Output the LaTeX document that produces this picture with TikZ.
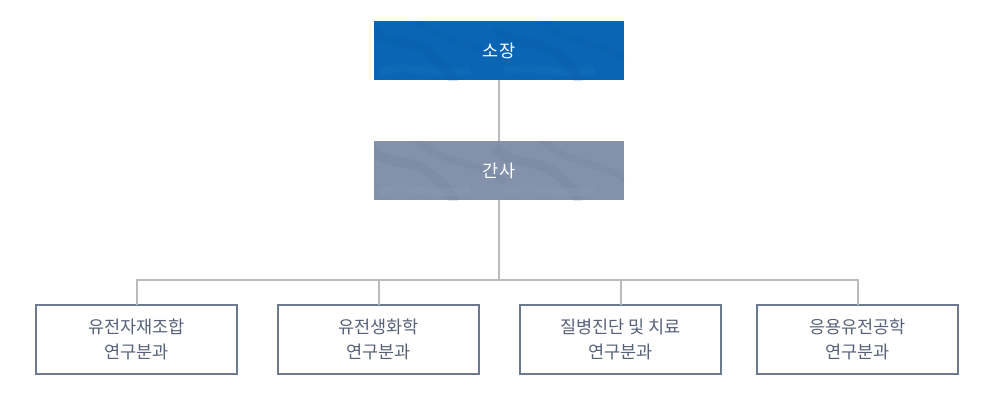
\documentclass[tikz,border=0pt]{standalone}
\usepackage{fontspec}
\setmainfont{Noto Sans CJK KR}
\definecolor{topblue}{HTML}{0A66B4}
\definecolor{topdark}{HTML}{04559E}
\definecolor{toplight}{HTML}{2A7CC4}
\definecolor{secgray}{HTML}{8391AA}
\definecolor{secdark}{HTML}{6C7B97}
\definecolor{seclight}{HTML}{98A4B9}
\definecolor{boxborder}{HTML}{6B7A90}
\definecolor{boxtext}{HTML}{57627A}
\definecolor{linegray}{HTML}{BBBBBB}
\begin{document}
\begin{tikzpicture}[x=1pt,y=-1pt,
  headbox/.style={minimum width=250pt,minimum height=59pt,inner sep=0pt,text=white,font=\fontsize{17.5}{20}\selectfont},
  unitbox/.style={draw=boxborder,line width=2pt,fill=white,minimum width=201pt,minimum height=69pt,inner sep=0pt,text=boxtext,align=center,font=\fontsize{17.5}{25}\selectfont},
  conn/.style={draw=linegray,line width=2pt}]
\useasboundingbox (0,0) rectangle (1000,400);
\node[headbox,fill=topblue] (chief) at (499,50.5) {};
\begin{scope}
\clip (374,21) rectangle (624,80);
\foreach \o in {0,125}{
\draw[topdark,line width=10pt,opacity=0.18] (370+\o,28) .. controls (395+\o,55) and (420+\o,25) .. (455+\o,82);
\draw[topdark,line width=7pt,opacity=0.15] (415+\o,18) .. controls (440+\o,45) and (470+\o,38) .. (505+\o,62);
\draw[toplight,line width=8pt,opacity=0.15] (380+\o,72) .. controls (410+\o,62) and (430+\o,78) .. (470+\o,70);
}
\end{scope}
\node[headbox] at (chief) {소장};
\node[headbox,fill=secgray] (sec) at (499,170.5) {};
\begin{scope}
\clip (374,141) rectangle (624,200);
\foreach \o in {0,125}{
\draw[secdark,line width=10pt,opacity=0.18] (370+\o,148) .. controls (395+\o,175) and (420+\o,145) .. (455+\o,202);
\draw[secdark,line width=7pt,opacity=0.15] (415+\o,138) .. controls (440+\o,165) and (470+\o,158) .. (505+\o,182);
\draw[seclight,line width=8pt,opacity=0.2] (380+\o,192) .. controls (410+\o,182) and (430+\o,198) .. (470+\o,190);
}
\end{scope}
\node[headbox] at (sec) {간사};
\node[unitbox] (u1) at (136.5,339.5) {유전자재조합\\연구분과};
\node[unitbox] (u2) at (378.5,339.5) {유전생화학\\연구분과};
\node[unitbox] (u3) at (620.5,339.5) {질병진단 및 치료\\연구분과};
\node[unitbox] (u4) at (857.5,339.5) {응용유전공학\\연구분과};
\coordinate (bus) at (499,280);
\draw[conn] (chief.south) -- (sec.north);
\draw[conn] (sec.south) -- (bus);
\draw[conn] ([yshift=-1pt]u1.north) -- (u1.north|-bus) -- (u4.north|-bus) -- ([yshift=-1pt]u4.north);
\draw[conn] ([yshift=-1pt]u2.north) -- (u2.north|-bus);
\draw[conn] ([yshift=-1pt]u3.north) -- (u3.north|-bus);
\end{tikzpicture}
\end{document}
